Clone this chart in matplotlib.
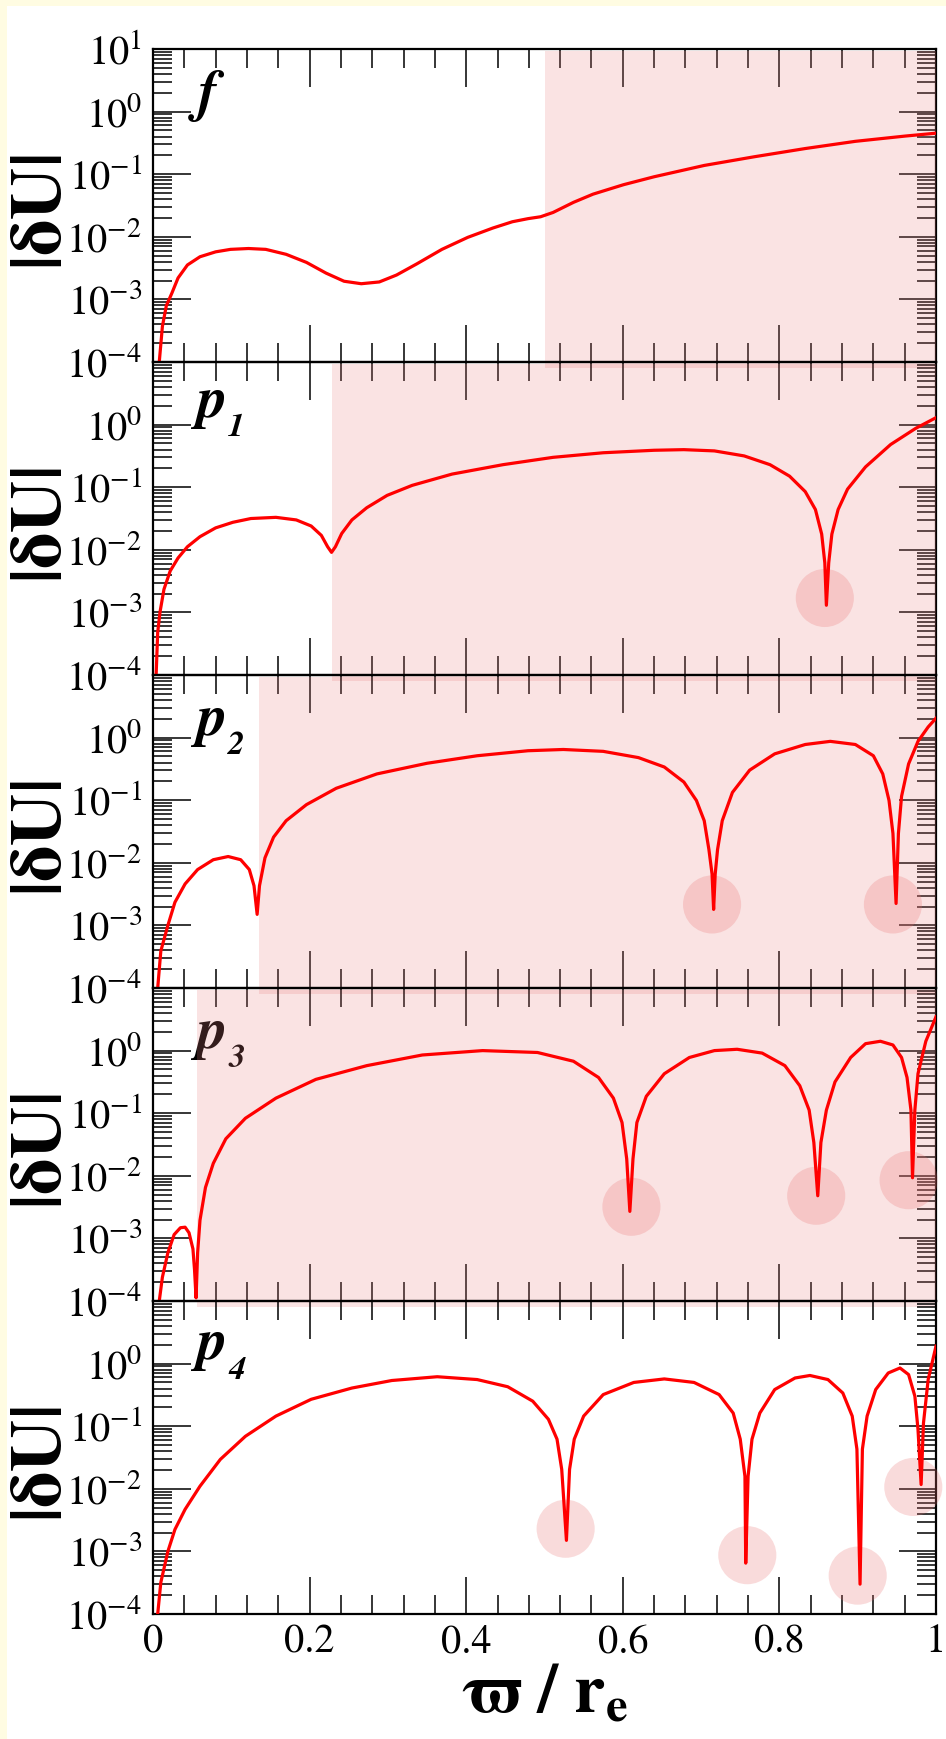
import numpy as np
import matplotlib
matplotlib.use("Agg")
import matplotlib.pyplot as plt
from matplotlib.patches import Rectangle
from matplotlib.ticker import FixedLocator, FixedFormatter, LogLocator, MultipleLocator, NullFormatter

plt.rcParams['font.family'] = ['STIXGeneral', 'DejaVu Serif']
plt.rcParams['mathtext.fontset'] = 'stix'

# ---------------- data ----------------
panel_names = ['f', 'p', 'p', 'p', 'p']
panel_subs = ['', '1', '2', '3', '4']

x_f = [0.008, 0.012, 0.017, 0.024, 0.032, 0.044, 0.060, 0.080, 0.099, 0.122, 0.144, 0.170,
       0.196, 0.221, 0.244, 0.266, 0.289, 0.311, 0.337, 0.369, 0.402, 0.434, 0.459, 0.479,
       0.495, 0.511, 0.537, 0.562, 0.601, 0.640, 0.704, 0.768, 0.833, 0.897, 0.961, 1.0]
y_f = [1.0e-4, 3.7e-4, 7.9e-4, 1.25e-3, 2.2e-3, 3.55e-3, 4.8e-3, 5.75e-3, 6.3e-3, 6.5e-3, 6.3e-3, 5.25e-3,
       3.9e-3, 2.63e-3, 1.95e-3, 1.78e-3, 1.9e-3, 2.45e-3, 3.7e-3, 6.3e-3, 9.8e-3, 1.38e-2, 1.74e-2, 1.95e-2,
       2.09e-2, 2.45e-2, 3.55e-2, 4.8e-2, 6.8e-2, 9.1e-2, 0.138, 0.19, 0.257, 0.335, 0.407, 0.452]

x_p1 = [0.004, 0.006, 0.009, 0.014, 0.022, 0.032, 0.044, 0.060, 0.080, 0.102, 0.125, 0.157,
        0.183, 0.202, 0.215, 0.223, 0.228, 0.233, 0.241, 0.254, 0.273, 0.299, 0.331, 0.382,
        0.447, 0.511, 0.575, 0.640, 0.678, 0.717, 0.755, 0.788, 0.813, 0.833, 0.846, 0.854,
        0.858, 0.860, 0.863, 0.867, 0.875, 0.887, 0.910, 0.942, 0.974, 1.0]
y_p1 = [1.0e-4, 4.8e-4, 1.02e-3, 2.34e-3, 4.6e-3, 7.4e-3, 1.12e-2, 1.62e-2, 2.24e-2, 2.75e-2, 3.16e-2, 3.3e-2,
        3.0e-2, 2.4e-2, 1.7e-2, 1.12e-2, 9.1e-3, 1.12e-2, 1.82e-2, 3.0e-2, 4.7e-2, 7.4e-2, 0.107, 0.162,
        0.229, 0.30, 0.355, 0.389, 0.398, 0.38, 0.316, 0.229, 0.15, 8.5e-2, 4.4e-2, 1.78e-2,
        6.2e-3, 1.3e-3, 6.2e-3, 1.78e-2, 4.4e-2, 9.3e-2, 0.211, 0.48, 0.87, 1.29]

x_p2 = [0.006, 0.010, 0.019, 0.028, 0.041, 0.057, 0.077, 0.096, 0.112, 0.123, 0.129, 0.133,
        0.136, 0.143, 0.154, 0.170, 0.196, 0.234, 0.286, 0.350, 0.414, 0.479, 0.524, 0.575,
        0.620, 0.653, 0.678, 0.694, 0.704, 0.710, 0.714, 0.716, 0.718, 0.721, 0.727, 0.740,
        0.762, 0.794, 0.833, 0.865, 0.897, 0.920, 0.932, 0.940, 0.945, 0.949, 0.952, 0.956,
        0.965, 0.977, 0.990, 1.0]
y_p2 = [1.0e-4, 3.9e-4, 1.0e-3, 2.34e-3, 4.6e-3, 7.8e-3, 1.12e-2, 1.26e-2, 1.12e-2, 7.8e-3, 4.3e-3, 1.5e-3,
        4.3e-3, 1.2e-2, 2.57e-2, 4.7e-2, 8.5e-2, 0.155, 0.263, 0.389, 0.513, 0.617, 0.646, 0.603,
        0.479, 0.339, 0.195, 9.9e-2, 4.7e-2, 1.62e-2, 6.6e-3, 1.8e-3, 6.6e-3, 1.62e-2, 4.7e-2, 0.133,
        0.302, 0.55, 0.776, 0.871, 0.776, 0.513, 0.263, 9.9e-2, 2.95e-2, 2.24e-3, 2.95e-2, 0.115,
        0.38, 0.871, 1.48, 2.04]

x_p3 = [0.008, 0.012, 0.019, 0.027, 0.035, 0.041, 0.046, 0.051, 0.053, 0.055, 0.057, 0.060,
        0.067, 0.077, 0.093, 0.118, 0.157, 0.208, 0.273, 0.344, 0.421, 0.491, 0.537, 0.569,
        0.588, 0.599, 0.605, 0.609, 0.613, 0.618, 0.630, 0.653, 0.685, 0.717, 0.746, 0.778,
        0.807, 0.826, 0.838, 0.844, 0.849, 0.853, 0.860, 0.871, 0.891, 0.910, 0.929, 0.945,
        0.956, 0.963, 0.968, 0.970, 0.973, 0.977, 0.987, 1.0]
y_p3 = [1.0e-4, 2.4e-4, 5.9e-4, 1.15e-3, 1.48e-3, 1.51e-3, 1.23e-3, 6.8e-4, 3.2e-4, 1.12e-4, 5.9e-4, 1.95e-3,
        6.5e-3, 1.58e-2, 3.9e-2, 8.3e-2, 0.174, 0.347, 0.575, 0.851, 1.0, 0.933, 0.676, 0.372,
        0.174, 7.1e-2, 1.86e-2, 2.7e-3, 1.86e-2, 7.1e-2, 0.186, 0.427, 0.776, 1.0, 1.05, 0.912,
        0.575, 0.275, 0.112, 3.4e-2, 4.8e-3, 3.4e-2, 0.112, 0.316, 0.776, 1.29, 1.41, 1.23,
        0.776, 0.372, 0.112, 9.3e-3, 0.112, 0.427, 1.41, 3.47]

x_p4 = [0.006, 0.010, 0.019, 0.028, 0.041, 0.060, 0.086, 0.118, 0.157, 0.202, 0.254, 0.305,
        0.363, 0.414, 0.453, 0.485, 0.505, 0.516, 0.522, 0.528, 0.532, 0.538, 0.550, 0.575,
        0.614, 0.653, 0.691, 0.723, 0.741, 0.750, 0.756, 0.757, 0.760, 0.765, 0.775, 0.794,
        0.820, 0.839, 0.862, 0.881, 0.893, 0.899, 0.903, 0.906, 0.912, 0.923, 0.939, 0.954,
        0.965, 0.973, 0.977, 0.981, 0.984, 0.990, 1.0]
y_p4 = [1.0e-4, 3.2e-4, 1.0e-3, 2.24e-3, 4.7e-3, 1.1e-2, 2.95e-2, 6.9e-2, 0.145, 0.269, 0.407, 0.537,
        0.617, 0.556, 0.427, 0.251, 0.129, 6.2e-2, 2.04e-2, 1.5e-3, 2.04e-2, 6.2e-2, 0.145, 0.32,
        0.50, 0.569, 0.50, 0.32, 0.162, 6.2e-2, 1.58e-2, 6.5e-4, 1.58e-2, 6.2e-2, 0.162, 0.385,
        0.589, 0.646, 0.556, 0.339, 0.145, 4.3e-2, 3.0e-4, 4.3e-2, 0.145, 0.385, 0.708, 0.851,
        0.668, 0.302, 8.9e-2, 1.17e-2, 0.112, 0.556, 1.9]

curves_x = [x_f, x_p1, x_p2, x_p3, x_p4]
curves_y = [y_f, y_p1, y_p2, y_p3, y_p4]

# start of shaded region in each panel (None = no shading)
shade_start = [0.5, 0.228, 0.136, 0.056, None]

# highlighted zeros (circles)
circles_x = [[], [0.858], [0.714, 0.945], [0.611, 0.847, 0.965], [0.527, 0.759, 0.900, 0.971]]
circles_y = [[], [1.7e-3], [2.16e-3, 2.16e-3], [3.2e-3, 4.8e-3, 8.5e-3], [2.3e-3, 8.7e-4, 4.1e-4, 1.07e-2]]

y_ticks = [1e-4, 1e-3, 1e-2, 1e-1, 1e0, 1e1]
y_tick_labels = [r'$10^{-4}$', r'$10^{-3}$', r'$10^{-2}$', r'$10^{-1}$', r'$10^{0}$', r'$10^{1}$']
x_ticks = [0, 0.2, 0.4, 0.6, 0.8, 1.0]
x_tick_labels = ['0', '0.2', '0.4', '0.6', '0.8', '1']

# panel label baseline heights (data units)
label_y = [1.05, 1.32, 1.1, 1.11, 1.17]

# ---------------- figure ----------------
W, H = 946, 1739
fig = plt.figure(figsize=(W / 100, H / 100), dpi=100)
fig.patch.set_facecolor('#FFFCE2')
fig.add_artist(Rectangle((7 / W, 0), 1, 1 - 6 / H, transform=fig.transFigure,
                         facecolor='white', edgecolor='none', zorder=-10))

left_px, right_px, top_px, ph = 153, 936, 49, 313
shade_color = '#EB8282'
circle_color = '#EB7474'

for i in range(5):
    bottom = 1 - (top_px + ph * (i + 1)) / H
    ax = fig.add_axes([left_px / W, bottom, (right_px - left_px) / W, ph / H])
    ax.set_facecolor('none')
    ax.set_yscale('log')
    ax.set_xlim(0, 1)
    ax.set_ylim(1e-4, 10)

    ax.plot(curves_x[i], curves_y[i], color='#FF0000', lw=2.3, zorder=5,
            solid_joinstyle='round', clip_on=True)

    if shade_start[i] is not None:
        ax.add_patch(Rectangle((shade_start[i], -0.018), 1 - shade_start[i], 1.012,
                               transform=ax.get_xaxis_transform(), facecolor=shade_color,
                               edgecolor='none', alpha=0.22, zorder=3.5, clip_on=False))
    if circles_x[i]:
        ax.scatter(circles_x[i], circles_y[i], s=1750, color=circle_color, alpha=0.26,
                   edgecolors='none', zorder=3.6, clip_on=False)

    # ticks
    ax.yaxis.set_major_locator(FixedLocator(y_ticks))
    labels = list(y_tick_labels)
    if i > 0:
        labels[-1] = ''
    ax.yaxis.set_major_formatter(FixedFormatter(labels))
    ax.yaxis.set_minor_locator(LogLocator(base=10, subs=np.arange(2, 10), numticks=20))
    ax.yaxis.set_minor_formatter(NullFormatter())
    ax.xaxis.set_major_locator(FixedLocator(x_ticks))
    ax.xaxis.set_minor_locator(MultipleLocator(0.04))
    if i == 4:
        ax.xaxis.set_major_formatter(FixedFormatter(x_tick_labels))
    else:
        ax.xaxis.set_major_formatter(NullFormatter())
    ax.tick_params(which='both', direction='in', top=True, right=True, width=1.1, color='black')
    ax.tick_params(which='major', length=27)
    ax.tick_params(which='minor', length=14)
    ax.tick_params(axis='y', which='major', labelsize=29, pad=8)
    ax.tick_params(axis='x', which='major', labelsize=29, pad=7)
    for sp in ax.spines.values():
        sp.set_linewidth(1.6)

    # panel label
    ax.text(0.057, label_y[i], panel_names[i], fontsize=42, fontstyle='italic',
            fontweight='bold', va='baseline', ha='left', zorder=3)
    if panel_subs[i]:
        ax.annotate(panel_subs[i], xy=(0.057, label_y[i]), xytext=(22, -14),
                    textcoords='offset points', fontsize=24, fontstyle='italic',
                    fontweight='bold', va='baseline', ha='left', zorder=3)

    ax.text(-0.145, 0.5, '|δU|', transform=ax.transAxes, rotation=90, ha='center',
            va='center', fontsize=52, fontweight='bold')

    if i == 4:
        ax.text(0.5, -0.316, r'$\mathbf{\varpi\ /\ r_e}$', transform=ax.transAxes,
                ha='center', va='baseline', fontsize=50)

fig.savefig('out.png', dpi=100, facecolor=fig.get_facecolor())
